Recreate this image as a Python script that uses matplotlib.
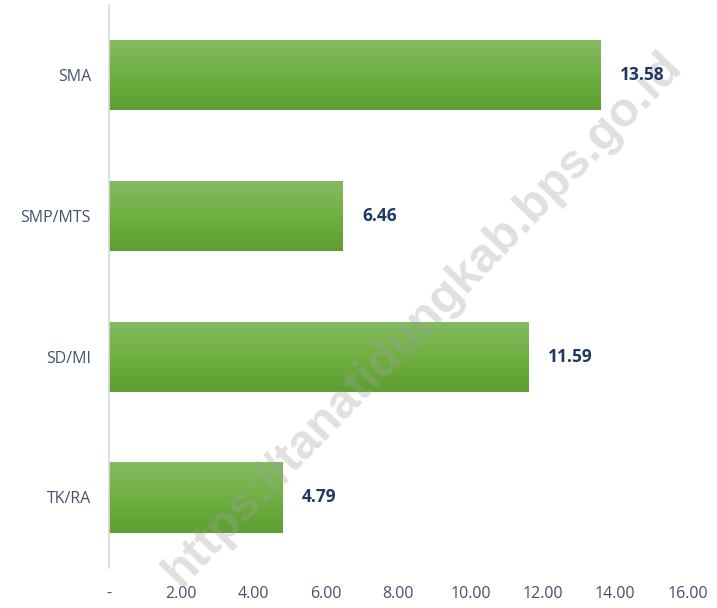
import matplotlib.pyplot as plt
import numpy as np
from matplotlib.colors import LinearSegmentedColormap

categories = ["TK/RA", "SD/MI", "SMP/MTS", "SMA"]
values = [4.79, 11.59, 6.46, 13.58]
xticks = [0, 2, 4, 6, 8, 10, 12, 14, 16]
xtick_labels = ["-", "2.00", "4.00", "6.00", "8.00", "10.00", "12.00", "14.00", "16.00"]

plt.rcParams['font.family'] = ['Open Sans', 'DejaVu Sans']

fig = plt.figure(figsize=(7.17, 6.08), dpi=100)
ax = fig.add_axes([0.152, 0.066, 0.807, 0.926])

green = LinearSegmentedColormap.from_list("g", ["#84ba62", "#70b042", "#5e9e32"])
grad = np.linspace(0, 1, 100).reshape(-1, 1)

ypos = np.arange(len(categories))
bars = ax.barh(ypos, values, height=0.5, color="none", edgecolor="none")
for b in bars:
    x0, y0 = b.get_x(), b.get_y()
    w, h = b.get_width(), b.get_height()
    im = ax.imshow(grad, cmap=green, aspect="auto", origin="upper",
                   extent=[x0, x0 + w, y0, y0 + h], zorder=2)
    im.set_clip_path(b)

for y, v in zip(ypos, values):
    ax.text(v + 0.55, y, f"{v:.2f}", va="center", ha="left", fontsize=12.5,
            fontweight="bold", color="#1f3864", zorder=5)

ax.set_xlim(0, 16)
ax.set_ylim(-0.5, 3.5)
ax.set_yticks(ypos)
ax.set_yticklabels(categories)
ax.set_xticks(xticks)
ax.set_xticklabels(xtick_labels)
ax.tick_params(axis="both", length=0, labelsize=11.5, colors="#44546a")
ax.tick_params(axis="y", pad=13)
ax.tick_params(axis="x", pad=13)
for s in ["top", "right", "bottom"]:
    ax.spines[s].set_visible(False)
ax.spines["left"].set_color("#d9d9d9")
ax.spines["left"].set_linewidth(1.2)

ax.text(0.59, 0.475, "https://tanatidungkab.bps.go.id", transform=fig.transFigure,
        rotation=46, fontsize=35, family="Liberation Sans", fontweight="bold",
        color="#a0a0a0", alpha=0.33, ha="center", va="center", zorder=3,
        clip_on=False)

fig.savefig("out.png", dpi=100)
